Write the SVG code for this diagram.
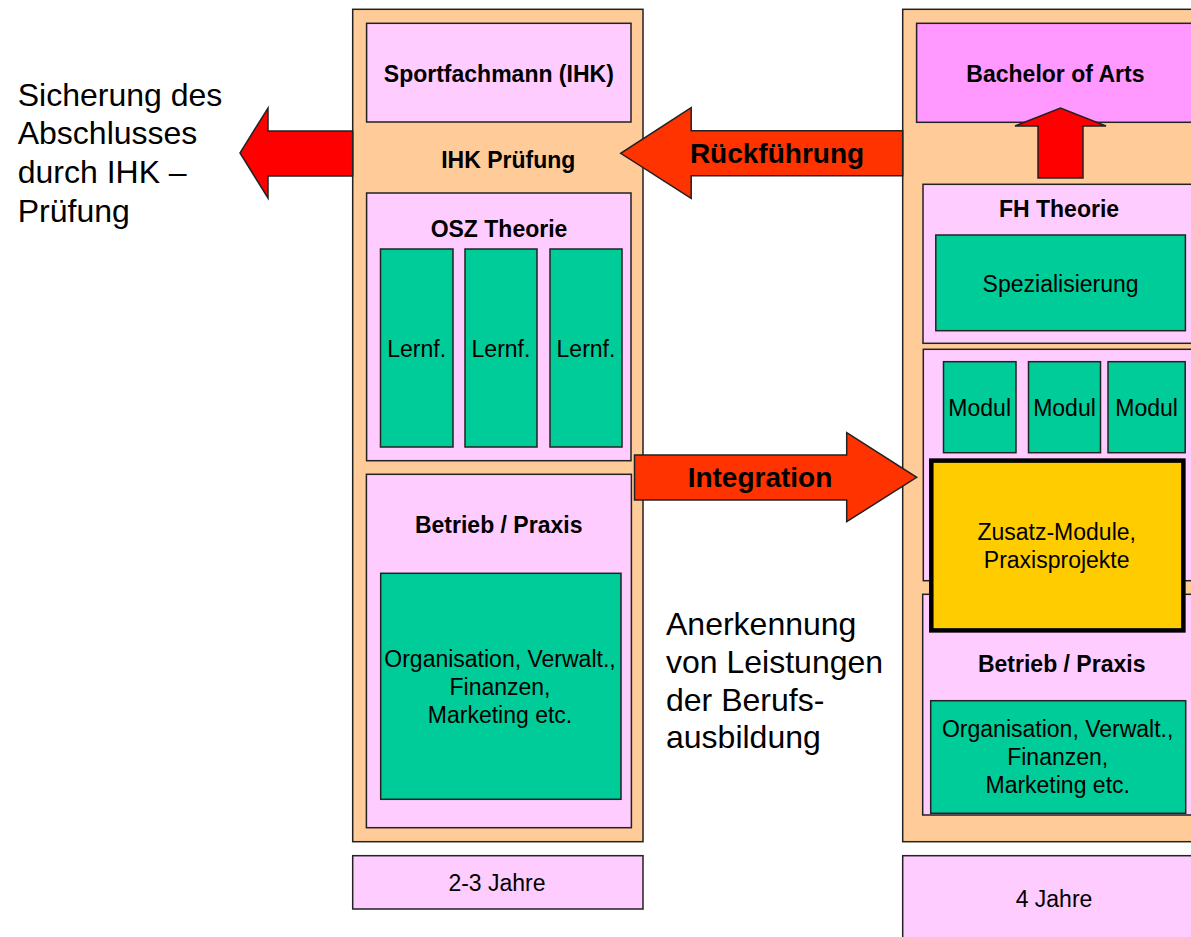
<svg xmlns="http://www.w3.org/2000/svg" width="1191" height="937" viewBox="0 0 1191 937">
<style>
rect, polygon { stroke: #222; stroke-width: 1.5; }
.peach { fill: #FFCC99; }
.pink { fill: #FFCCFF; }
.mag { fill: #FF99FF; }
.green { fill: #00CC99; }
.yellow { fill: #FFCC00; stroke: #000; stroke-width: 4.5; }
.red { fill: #FF0000; }
.orange { fill: #FF3300; }
text { font-family: "Liberation Sans", Arial, Helvetica, sans-serif; fill: #000; }
.b23 { font-size: 23px; font-weight: bold; text-anchor: middle; }
.n23 { font-size: 23px; text-anchor: middle; }
.b28 { font-size: 28px; font-weight: bold; text-anchor: middle; }
.n32 { font-size: 32px; }
</style>

<g id="left-column">
  <rect class="peach" x="352.7" y="9.3" width="290.3" height="832.4"/>
  <text class="b23" x="508.3" y="168">IHK Prüfung</text>
</g>
<g id="sportfachmann">
  <rect class="pink" x="366.6" y="23.3" width="264.4" height="98.7"/>
  <text class="b23" x="498.8" y="81.7">Sportfachmann (IHK)</text>
</g>
<g id="osz-theorie">
  <rect class="pink" x="366.6" y="193" width="264.4" height="267.7"/>
  <text class="b23" x="499" y="236.7">OSZ Theorie</text>
</g>
<g id="lernf-1">
  <rect class="green" x="380.5" y="249" width="72.5" height="198"/>
  <text class="n23" x="416.7" y="357.3">Lernf.</text>
</g>
<g id="lernf-2">
  <rect class="green" x="465" y="249" width="72" height="198"/>
  <text class="n23" x="501" y="357.3">Lernf.</text>
</g>
<g id="lernf-3">
  <rect class="green" x="550" y="249" width="72" height="198"/>
  <text class="n23" x="586" y="357.3">Lernf.</text>
</g>
<g id="betrieb-left">
  <rect class="pink" x="366.4" y="474.3" width="265" height="353.4"/>
  <text class="b23" x="498.7" y="532.7">Betrieb / Praxis</text>
</g>
<g id="org-left">
  <rect class="green" x="380.7" y="573.3" width="240.3" height="226"/>
  <text class="n23" x="500" y="666.7">Organisation, Verwalt.,</text>
  <text class="n23" x="500" y="695">Finanzen,</text>
  <text class="n23" x="500" y="723.3">Marketing etc.</text>
</g>
<g id="jahre-left">
  <rect class="pink" x="352.7" y="855.7" width="290.3" height="53.3"/>
  <text class="n23" x="497" y="891">2-3 Jahre</text>
</g>

<g id="right-column">
  <rect class="peach" x="902.7" y="9.3" width="305" height="832.4"/>
</g>
<g id="bachelor">
  <rect class="mag" x="916.6" y="23.3" width="278" height="99"/>
  <text class="b23" x="1055.4" y="81.7">Bachelor of Arts</text>
</g>
<g id="fh-theorie">
  <rect class="pink" x="923" y="184.3" width="272" height="159"/>
  <text class="b23" x="1059" y="216.7">FH Theorie</text>
</g>
<g id="spezialisierung">
  <rect class="green" x="935.8" y="235" width="249.6" height="95.7"/>
  <text class="n23" x="1060.6" y="291.7">Spezialisierung</text>
</g>
<g id="module-area">
  <rect class="pink" x="923.3" y="349.3" width="272" height="231.4"/>
</g>
<g id="modul-1">
  <rect class="green" x="943.5" y="361.7" width="72.5" height="91"/>
  <text class="n23" x="979.7" y="416">Modul</text>
</g>
<g id="modul-2">
  <rect class="green" x="1028.5" y="361.7" width="72" height="91"/>
  <text class="n23" x="1064.5" y="416">Modul</text>
</g>
<g id="modul-3">
  <rect class="green" x="1108" y="361.7" width="77.2" height="91"/>
  <text class="n23" x="1146.6" y="416">Modul</text>
</g>
<g id="betrieb-right">
  <rect class="pink" x="922.7" y="594.3" width="272" height="220.7"/>
  <text class="b23" x="1061.7" y="671.7">Betrieb / Praxis</text>
</g>
<g id="org-right">
  <rect class="green" x="930.7" y="700.7" width="255" height="112.6"/>
  <text class="n23" x="1057.7" y="736.7">Organisation, Verwalt.,</text>
  <text class="n23" x="1057.7" y="765">Finanzen,</text>
  <text class="n23" x="1057.7" y="793.3">Marketing etc.</text>
</g>
<g id="zusatz">
  <rect class="yellow" x="931.3" y="460.6" width="252.1" height="169.8"/>
  <text class="n23" x="1056.7" y="540">Zusatz-Module,</text>
  <text class="n23" x="1056.7" y="567.5">Praxisprojekte</text>
</g>
<g id="jahre-right">
  <rect class="pink" x="902.7" y="855.7" width="305" height="100"/>
  <text class="n23" x="1054" y="906.5">4 Jahre</text>
</g>

<g id="label-sicherung">
  <text class="n32" x="17.7" y="106">Sicherung des</text>
  <text class="n32" x="17.7" y="144.3">Abschlusses</text>
  <text class="n32" x="17.7" y="183.3">durch IHK –</text>
  <text class="n32" x="17.7" y="221.7">Prüfung</text>
</g>
<g id="label-anerkennung">
  <text class="n32" x="666" y="635">Anerkennung</text>
  <text class="n32" x="666" y="672.7">von Leistungen</text>
  <text class="n32" x="666" y="710.7">der Berufs-</text>
  <text class="n32" x="666" y="748.3">ausbildung</text>
</g>

<g id="connectors">
  <polygon class="red" points="352.7,131 268,131 268,108 240,153 268,198 268,176 352.7,176"/>
  <polygon class="orange" points="902.7,130.7 691.2,130.7 691.2,107.7 620.7,153.3 691.2,198.3 691.2,175.7 902.7,175.7"/>
  <text class="b28" x="777" y="163.3">Rückführung</text>
  <polygon class="orange" points="634.5,455 846.7,455 846.7,432.7 916.7,477.3 846.7,521.7 846.7,500 634.5,500"/>
  <text class="b28" x="760" y="487">Integration</text>
  <polygon class="red" points="1038,178 1038,126 1015,126 1060.5,108 1106,126 1083,126 1083,178"/>
</g>
</svg>
